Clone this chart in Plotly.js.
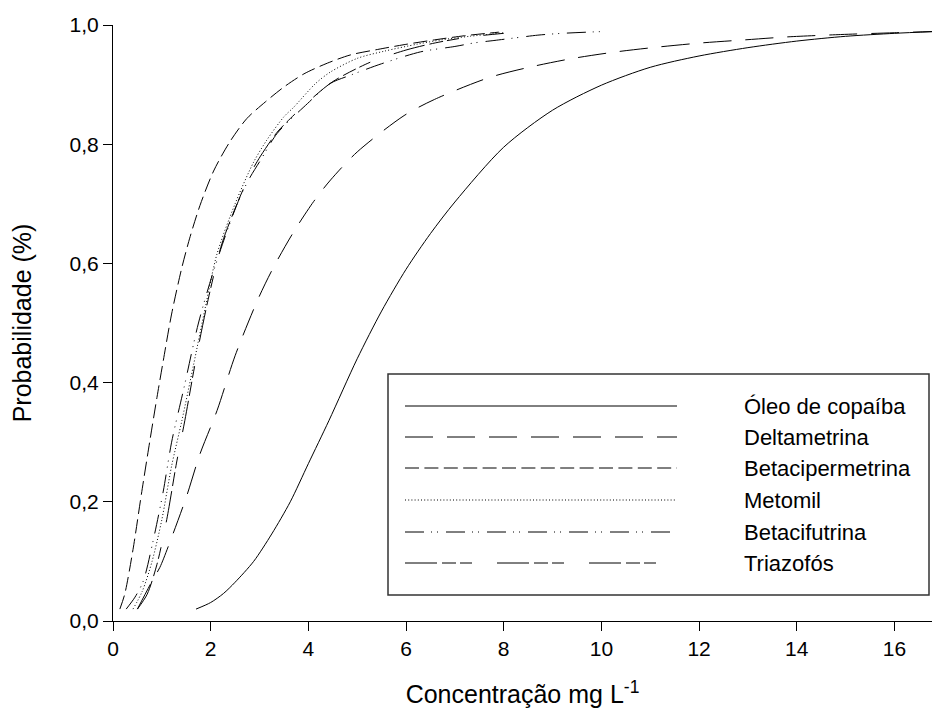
<!DOCTYPE html>
<html><head><meta charset="utf-8">
<script src="https://cdn.plot.ly/plotly-3.0.1.min.js"></script>
<style>body{margin:0;background:#fff}#chart{width:932px;height:720px}</style>
</head><body><div id="chart"></div>
<script>
// ---- data ----
const seriesNames = ["Óleo de copaíba", "Deltametrina", "Betacipermetrina", "Metomil", "Betacifutrina", "Triazofós"];

const oleoX = [1.70, 2.0, 2.26, 2.5, 2.88, 3.25, 3.63, 4.0, 4.42, 5.0, 5.5, 6.0, 6.5, 7.0, 8.0, 9.0, 10.0, 11.0, 12.0, 13.0, 14.0, 15.0, 16.0, 16.8];
const oleoY = [0.02, 0.031, 0.046, 0.065, 0.10, 0.146, 0.20, 0.264, 0.336, 0.44, 0.52, 0.59, 0.65, 0.703, 0.795, 0.857, 0.899, 0.929, 0.948, 0.962, 0.973, 0.981, 0.986, 0.989];

const deltaX = [0.50, 0.82, 0.96, 1.20, 1.51, 1.78, 2.13, 2.50, 2.98, 3.29, 3.70, 4.11, 4.455, 5.0, 5.96, 6.58, 7.71, 8.57, 9.42, 10.31, 11.16, 12.06, 12.93, 13.8, 14.9, 16.0, 16.8];
const deltaY = [0.02, 0.07, 0.09, 0.14, 0.21, 0.28, 0.353, 0.445, 0.542, 0.594, 0.653, 0.704, 0.740, 0.787, 0.848, 0.875, 0.912, 0.930, 0.944, 0.955, 0.963, 0.970, 0.975, 0.980, 0.984, 0.987, 0.989];

const betacipX = [0.14, 0.24, 0.41, 0.58, 0.75, 0.9, 1.03, 1.20, 1.41, 1.58, 1.78, 2.06, 2.40, 2.74, 3.12, 3.50, 3.91, 4.39, 4.87, 5.42, 5.96, 6.58, 7.2, 7.9];
const betacipY = [0.02, 0.045, 0.12, 0.212, 0.30, 0.375, 0.437, 0.515, 0.593, 0.645, 0.697, 0.755, 0.805, 0.843, 0.871, 0.896, 0.918, 0.936, 0.95, 0.959, 0.967, 0.975, 0.982, 0.988];

const metomilX = [0.41, 0.6, 0.8, 1.0, 1.2, 1.41, 1.65, 1.9, 2.13, 2.5, 2.88, 3.15, 3.50, 3.70, 4.15, 4.45, 5.0, 5.55, 6.24, 6.72, 7.3, 8.0];
const metomilY = [0.02, 0.05, 0.10, 0.17, 0.26, 0.336, 0.43, 0.53, 0.616, 0.70, 0.77, 0.807, 0.846, 0.862, 0.902, 0.921, 0.944, 0.956, 0.968, 0.975, 0.981, 0.987];

const betacifX = [0.27, 0.45, 0.62, 0.82, 1.03, 1.20, 1.45, 1.75, 2.05, 2.36, 2.60, 2.81, 3.02, 3.36, 3.98, 4.45, 4.87, 5.5, 6.3, 7.0, 7.4, 7.8, 8.2, 8.7, 9.2, 10.0];
const betacifY = [0.02, 0.04, 0.067, 0.134, 0.218, 0.30, 0.39, 0.50, 0.585, 0.66, 0.711, 0.745, 0.773, 0.818, 0.868, 0.902, 0.916, 0.935, 0.955, 0.964, 0.970, 0.974, 0.978, 0.983, 0.986, 0.989];

const triazX = [0.50, 0.7, 0.9, 1.1, 1.3, 1.47, 1.7, 1.95, 2.23, 2.54, 2.81, 3.02, 3.36, 3.63, 3.98, 4.5, 5.28, 6.0, 6.6, 7.3, 8.0];
const triazY = [0.02, 0.045, 0.095, 0.17, 0.265, 0.336, 0.44, 0.54, 0.633, 0.70, 0.75, 0.78, 0.82, 0.843, 0.87, 0.905, 0.938, 0.958, 0.970, 0.980, 0.986];

const xTickVals = [0, 2, 4, 6, 8, 10, 12, 14, 16];
const xTickText = ["0", "2", "4", "6", "8", "10", "12", "14", "16"];
const yTickVals = [0, 0.2, 0.4, 0.6, 0.8, 1.0];
const yTickText = ["0,0", "0,2", "0,4", "0,6", "0,8", "1,0"];

// ---- styles ----
const dashes = ["solid", "28px,14px", "14px,5.4px", "1px,2.2px", "19px,7px,1px,5px,1px,8px", "32px,5px,14px,4px,12px,25px"];
const xs = [oleoX, deltaX, betacipX, metomilX, betacifX, triazX];
const ys = [oleoY, deltaY, betacipY, metomilY, betacifY, triazY];

const traces = xs.map((x, i) => ({
  x: x, y: ys[i], type: "scatter", mode: "lines", name: seriesNames[i],
  line: {color: "#000", width: 1, dash: dashes[i], shape: "spline", smoothing: 0.8},
  showlegend: false, hoverinfo: "skip"
}));

// manual legend (paper coords)
const L = 113, W = 819, B = 621, H = 596;
const px = v => (v - L) / W, py = v => (B - v) / H;
const rowY = [406, 437, 468, 500, 532, 563];
const shapes = [{
  type: "rect", xref: "paper", yref: "paper",
  x0: px(388), x1: px(929), y0: py(595), y1: py(374),
  line: {color: "#333", width: 1.5}, fillcolor: "rgba(0,0,0,0)"
}];
const annotations = [];
seriesNames.forEach((n, i) => {
  shapes.push({type: "line", xref: "paper", yref: "paper",
    x0: px(405), x1: px(677), y0: py(rowY[i]), y1: py(rowY[i]),
    line: {color: "#000", width: 1, dash: dashes[i]}});
  annotations.push({xref: "paper", yref: "paper", x: px(742), y: py(rowY[i]),
    xanchor: "left", yanchor: "middle", text: n, showarrow: false,
    font: {family: "Liberation Sans, Arial", size: 22, color: "#000"}});
});

const layout = {
  width: 932, height: 720,
  margin: {l: 113, r: 0, t: 25, b: 99},
  paper_bgcolor: "#fff", plot_bgcolor: "#fff",
  font: {family: "Liberation Sans, Arial", color: "#000"},
  xaxis: {
    range: [0, 16.77], tickvals: xTickVals, ticktext: xTickText,
    showline: true, linecolor: "#000", linewidth: 1, ticks: "outside", ticklen: 9, tickcolor: "#000",
    showgrid: false, zeroline: false, tickfont: {size: 21},
    title: {text: "Concentração mg L<sup>-1</sup>", font: {size: 25}, standoff: 26}
  },
  yaxis: {
    range: [0, 1], tickvals: yTickVals, ticktext: yTickText,
    showline: true, linecolor: "#000", linewidth: 1, ticks: "outside", ticklen: 9, tickcolor: "#000",
    showgrid: false, zeroline: false, tickfont: {size: 21},
    title: {text: "Probabilidade (%)", font: {size: 25}, standoff: 30}
  },
  shapes: shapes, annotations: annotations, showlegend: false
};

Plotly.newPlot("chart", traces, layout, {displayModeBar: false, staticPlot: true});
</script></body></html>
